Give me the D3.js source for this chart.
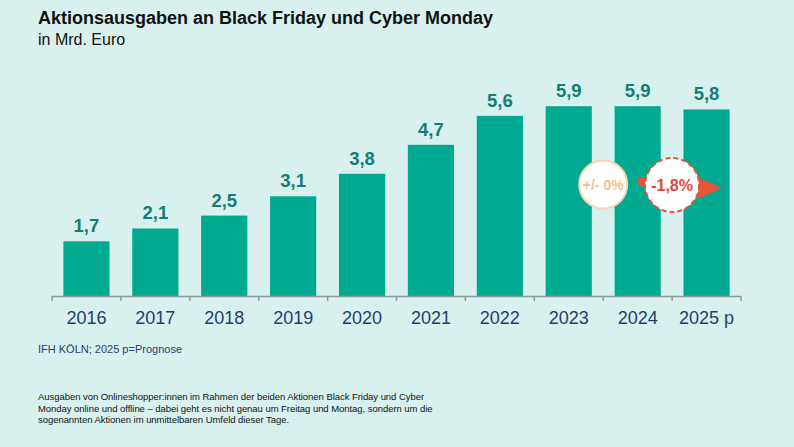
<!DOCTYPE html>
<html>
<head>
<meta charset="utf-8">
<script src="https://cdn.jsdelivr.net/npm/d3@7"></script>
<style>
  html, body { margin: 0; padding: 0; background: #d9f1ee; }
  svg { display: block; font-family: "Liberation Sans", Arial, sans-serif; }
</style>
</head>
<body>
<svg id="chart" width="794" height="447"></svg>
<script>
// Aktionsausgaben Black Friday / Cyber Monday, in Mrd. Euro
const years = ["2016", "2017", "2018", "2019", "2020", "2021", "2022", "2023", "2024", "2025 p"];
const spending = [1.7, 2.1, 2.5, 3.1, 3.8, 4.7, 5.6, 5.9, 5.9, 5.8];
const valueLabels = ["1,7", "2,1", "2,5", "3,1", "3,8", "4,7", "5,6", "5,9", "5,9", "5,8"];
const changeLabels = ["+/- 0%", "-1,8%"];

const footnote = [
    "Ausgaben von Onlineshopper:innen im Rahmen der beiden Aktionen Black Friday und Cyber",
    "Monday online und offline \u2013 dabei geht es nicht genau um Freitag und Montag, sondern um die",
    "sogenannten Aktionen im unmittelbaren Umfeld dieser Tage."
];

const svg = d3.select("#chart");

const x = d3.scaleBand()
    .domain(years)
    .range([52, 741])
    .paddingInner(0.33)
    .paddingOuter(0.165);

const y = d3.scaleLinear()
    .domain([0, 6])
    .range([296, 103]);

// Title
svg.append("text")
    .attr("x", 38)
    .attr("y", 24)
    .style("font-size", "18px")
    .style("font-weight", "bold")
    .style("fill", "#111")
    .text("Aktionsausgaben an Black Friday und Cyber Monday");

svg.append("text")
    .attr("x", 38)
    .attr("y", 45)
    .style("font-size", "16px")
    .style("fill", "#111")
    .text("in Mrd. Euro");

// Bars
const data = years.map((d, i) => ({ year: d, value: spending[i], label: valueLabels[i] }));

svg.append("g")
    .selectAll("rect")
    .data(data)
    .enter().append("rect")
    .attr("x", d => x(d.year))
    .attr("y", d => y(d.value))
    .attr("width", x.bandwidth())
    .attr("height", d => y(0) - y(d.value))
    .style("fill", "#00aa91");

svg.append("g")
    .selectAll("text")
    .data(data)
    .enter().append("text")
    .attr("x", d => x(d.year) + x.bandwidth() / 2)
    .attr("y", d => y(d.value) - 9)
    .attr("text-anchor", "middle")
    .style("font-size", "18.5px")
    .style("font-weight", "bold")
    .style("fill", "#137d78")
    .text(d => d.label);

// X axis: ticks at band boundaries
const axis = svg.append("g");
axis.append("line")
    .attr("x1", 52).attr("x2", 741)
    .attr("y1", 296.5).attr("y2", 296.5)
    .style("stroke", "#8c9a9a")
    .style("stroke-width", 1.5);

const step = x.step();
const boundaries = d3.range(years.length + 1).map(i => 52 + i * step);
axis.selectAll(".tick")
    .data(boundaries)
    .enter().append("line")
    .attr("x1", d => d).attr("x2", d => d)
    .attr("y1", 296).attr("y2", 301)
    .style("stroke", "#8c9a9a")
    .style("stroke-width", 1.5);

axis.selectAll(".year")
    .data(years)
    .enter().append("text")
    .attr("x", d => x(d) + x.bandwidth() / 2)
    .attr("y", 324)
    .attr("text-anchor", "middle")
    .style("font-size", "18px")
    .style("fill", "#1d3f70")
    .text(d => d);

// Change annotations
const c1x = x("2024") - step * 0.165;
const c2x = x("2025 p") - step * 0.165;

// arrow behind second circle
svg.append("rect")
    .attr("x", c2x - 34)
    .attr("y", 178)
    .attr("width", 62)
    .attr("height", 8)
    .style("fill", "#e9523b");
svg.append("path")
    .attr("d", `M${c2x + 25},177 L${c2x + 50},188 L${c2x + 25},199 Z`)
    .style("fill", "#e9523b");

svg.append("circle")
    .attr("cx", c1x).attr("cy", 184.5).attr("r", 24)
    .style("fill", "#fff")
    .style("stroke", "#f8d6b4")
    .style("stroke-width", 2);
svg.append("text")
    .attr("x", c1x).attr("y", 189.5)
    .attr("text-anchor", "middle")
    .style("font-size", "14px")
    .style("font-weight", "bold")
    .style("fill", "#f5bf8c")
    .text(changeLabels[0]);

svg.append("circle")
    .attr("cx", c2x).attr("cy", 185).attr("r", 27)
    .style("fill", "#fff")
    .style("stroke", "#e9523b")
    .style("stroke-width", 2)
    .style("stroke-dasharray", "5,3");
svg.append("text")
    .attr("x", c2x).attr("y", 191)
    .attr("text-anchor", "middle")
    .style("font-size", "16px")
    .style("font-weight", "bold")
    .style("fill", "#e2483a")
    .text(changeLabels[1]);

// Source
svg.append("text")
    .attr("x", 38)
    .attr("y", 353)
    .style("font-size", "11px")
    .style("fill", "#1d3f70")
    .text("IFH K\u00d6LN; 2025 p=Prognose");

// Footnote
svg.append("g")
    .selectAll("text")
    .data(footnote)
    .enter().append("text")
    .attr("x", 38)
    .attr("y", (d, i) => 400 + i * 11.5)
    .style("font-size", "9.5px")
    .style("fill", "#111")
    .style("letter-spacing", "-0.05px")
    .text(d => d);
</script>
</body>
</html>
